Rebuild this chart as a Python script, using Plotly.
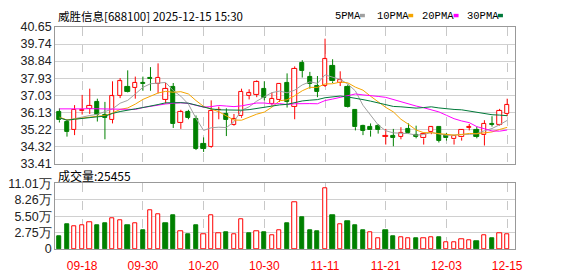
import plotly.graph_objects as go

# ---------------- data ----------------
dates = ["09-15", "09-16", "09-17", "09-18", "09-19", "09-22", "09-23", "09-24", "09-25", "09-26",
         "09-29", "09-30", "10-09", "10-10", "10-13", "10-14", "10-15", "10-16", "10-17", "10-20",
         "10-21", "10-22", "10-23", "10-24", "10-27", "10-28", "10-29", "10-30", "10-31", "11-03",
         "11-04", "11-05", "11-06", "11-07", "11-10", "11-11", "11-12", "11-13", "11-14", "11-17",
         "11-18", "11-19", "11-20", "11-21", "11-24", "11-25", "11-26", "11-27", "11-28", "12-01",
         "12-02", "12-03", "12-04", "12-05", "12-08", "12-09", "12-10", "12-11", "12-12", "12-15"]

opens = [36.13, 35.62, 35.20, 36.18, 36.31, 36.68, 36.01, 35.74, 37.01, 37.48,
         37.42, 37.68, 37.95, 37.63, 36.80, 37.48, 35.56, 36.13, 35.79, 34.47,
         34.30, 36.23, 36.06, 35.47, 35.92, 37.01, 37.06, 37.38, 36.56, 36.81,
         37.68, 36.43, 38.72, 37.99, 37.55, 37.52, 38.61, 37.68, 37.48, 36.23,
         35.42, 35.34, 35.42, 34.85, 34.89, 34.84, 35.25, 34.95, 34.75, 35.09,
         35.37, 34.95, 34.70, 34.80, 35.32, 35.17, 34.92, 35.49, 35.46, 36.04]
highs = [36.34, 35.76, 36.51, 37.05, 37.38, 36.85, 36.68, 37.77, 37.94, 38.35,
         38.02, 38.02, 38.52, 38.72, 37.68, 37.68, 36.26, 36.26, 35.96, 34.80,
         36.76, 36.43, 36.34, 36.04, 37.38, 37.35, 37.82, 37.77, 37.18, 37.68,
         38.19, 38.56, 38.89, 38.27, 38.05, 40.03, 38.94, 38.30, 37.60, 36.26,
         35.47, 35.54, 35.51, 35.25, 35.25, 35.34, 35.54, 35.42, 35.05, 35.37,
         35.37, 35.04, 34.92, 35.24, 35.51, 35.37, 35.71, 35.92, 36.31, 36.85]
lows = [35.59, 34.84, 34.92, 36.01, 36.04, 35.64, 34.70, 35.54, 36.88, 37.18,
        36.85, 37.27, 37.27, 37.13, 36.59, 35.30, 35.25, 35.76, 34.13, 34.03,
        34.25, 35.76, 34.87, 35.42, 35.84, 36.81, 36.93, 36.76, 36.48, 36.68,
        36.38, 35.76, 37.97, 37.38, 36.93, 37.47, 37.68, 37.52, 36.38, 35.17,
        34.92, 34.84, 35.00, 34.42, 34.33, 34.70, 35.00, 34.75, 34.42, 34.97,
        34.53, 34.63, 34.42, 34.63, 35.17, 34.75, 34.37, 35.37, 35.42, 35.92]
closes = [35.71, 35.09, 36.26, 36.28, 36.46, 36.01, 35.84, 36.98, 37.77, 37.21,
          37.68, 37.62, 37.92, 37.97, 37.38, 35.51, 36.13, 35.84, 34.20, 34.20,
          36.21, 36.28, 35.72, 35.76, 37.23, 37.13, 37.73, 36.90, 36.85, 37.63,
          36.68, 38.44, 38.32, 37.63, 37.21, 38.94, 37.77, 37.82, 36.43, 35.34,
          35.14, 35.17, 35.20, 34.89, 34.78, 35.05, 35.05, 34.84, 35.00, 35.34,
          34.63, 34.75, 34.87, 35.20, 35.35, 34.84, 35.51, 35.46, 36.21, 36.51]

ma5 = [35.84, 35.72, 35.79, 35.89, 35.96, 36.02, 36.17, 36.31, 36.61, 36.76,
       37.10, 37.45, 37.64, 37.68, 37.71, 37.28, 36.98, 36.56, 35.81, 35.17,
       35.31, 35.34, 35.32, 35.63, 36.24, 36.42, 36.72, 36.95, 37.17, 37.25,
       37.16, 37.30, 37.58, 37.74, 37.66, 38.11, 37.98, 37.87, 37.63, 37.26,
       36.50, 35.98, 35.46, 35.15, 35.04, 35.02, 35.00, 34.92, 34.95, 35.06,
       34.97, 34.91, 34.92, 34.96, 34.96, 35.00, 35.15, 35.27, 35.47, 35.70]
ma10 = [35.87, 35.72, 35.77, 35.84, 35.87, 35.92, 35.96, 36.09, 36.28, 36.36,
        36.56, 36.81, 36.98, 37.15, 37.24, 37.19, 37.22, 37.10, 36.75, 36.44,
        36.30, 36.16, 35.94, 35.72, 35.71, 35.87, 36.03, 36.14, 36.40, 36.74,
        36.79, 37.01, 37.27, 37.45, 37.45, 37.63, 37.64, 37.73, 37.69, 37.46,
        37.30, 36.98, 36.66, 36.39, 36.15, 35.76, 35.49, 35.19, 35.05, 35.05,
        35.00, 34.95, 34.92, 34.95, 35.01, 34.99, 35.03, 35.09, 35.22, 35.33]
ma20 = [36.31, 36.30, 36.30, 36.31, 36.32, 36.31, 36.30, 36.31, 36.29, 36.27,
        36.28, 36.38, 36.45, 36.52, 36.57, 36.61, 36.63, 36.60, 36.48, 36.40,
        36.43, 36.49, 36.46, 36.43, 36.47, 36.53, 36.62, 36.62, 36.57, 36.59,
        36.54, 36.58, 36.60, 36.59, 36.58, 36.75, 36.83, 36.93, 37.04, 37.10,
        37.05, 36.99, 36.97, 36.92, 36.80, 36.70, 36.56, 36.46, 36.37, 36.25,
        36.15, 35.97, 35.79, 35.67, 35.58, 35.37, 35.26, 35.14, 35.13, 35.19]
ma30 = [35.84, 35.71, 35.76, 35.81, 35.84, 35.89, 35.92, 36.07, 36.17, 36.26,
        36.31, 36.38, 36.48, 36.54, 36.63, 36.64, 36.64, 36.61, 36.50, 36.38,
        36.31, 36.26, 36.24, 36.23, 36.24, 36.27, 36.34, 36.39, 36.45, 36.52,
        36.55, 36.66, 36.73, 36.77, 36.80, 36.90, 36.96, 36.99, 36.94, 36.88,
        36.80, 36.72, 36.62, 36.52, 36.44, 36.42, 36.38, 36.35, 36.38, 36.42,
        36.36, 36.31, 36.28, 36.26, 36.20, 36.13, 36.05, 36.00, 35.98, 35.95]

# volume in 万 (10,000) units
volumes = [2.22, 4.13, 3.76, 3.92, 4.55, 3.97, 4.29, 5.19, 4.87, 3.97,
           4.24, 3.18, 6.46, 5.82, 4.29, 5.72, 2.96, 2.54, 3.97, 2.49,
           5.66, 2.65, 2.86, 2.49, 5.03, 2.70, 2.96, 2.86, 2.38, 3.12,
           4.29, 7.89, 5.40, 3.18, 3.02, 10.11, 5.72, 4.08, 4.61, 3.97,
           3.18, 2.81, 1.75, 3.18, 2.22, 1.91, 1.75, 1.75, 1.75, 1.91,
           1.91, 1.22, 1.06, 1.69, 1.43, 1.27, 2.33, 1.75, 2.65, 2.5455]
# 1 = red (up vs previous close), 0 = green
volume_up = [0, 0, 1, 1, 1, 0, 0, 1, 1, 0,
             1, 0, 1, 1, 0, 0, 1, 0, 0, 1,
             1, 1, 0, 1, 1, 0, 1, 0, 1, 1,
             0, 1, 0, 0, 0, 1, 0, 1, 0, 0,
             0, 1, 1, 0, 0, 1, 1, 0, 1, 1,
             0, 1, 1, 1, 1, 0, 1, 0, 1, 1]

x_tick_labels = ["09-18", "09-30", "10-20", "10-30", "11-11", "11-21", "12-03", "12-15"]
price_ticks = [33.41, 34.32, 35.22, 36.13, 37.03, 37.93, 38.84, 39.74, 40.65]
volume_ticks = [0, 2.75, 5.50, 8.26, 11.01]
volume_tick_text = ["0", "2.75万", "5.50万", "8.26万", "11.01万"]

title_text = "威胜信息[688100] 2025-12-15 15:30"
volume_title = "成交量:25455"
ma_names = ["5PMA", "10PMA", "20PMA", "30PMA"]

# ---------------- styling ----------------
W, H = 578, 276
RED = "#ff0000"
GREEN = "#008000"
MA_COLORS = ["#a0a0a0", "#f5a500", "#ff00ff", "#00793a"]
GRID = "#d0d0d0"
BORDER = "#999999"
LABEL = "#222222"


def px(xp):
    return xp / W


def py(yp):
    return 1 - yp / H


n = len(dates)
xs = list(range(n))
up_idx = [i for i in xs if closes[i] >= opens[i]]
dn_idx = [i for i in xs if closes[i] < opens[i]]
tick_pos = [dates.index(t) for t in x_tick_labels]


def wicks(idx):
    wx, wy = [], []
    for i in idx:
        top = max(opens[i], closes[i])
        bot = min(opens[i], closes[i])
        wx += [i, i, None, i, i, None]
        wy += [highs[i], top, None, bot, lows[i], None]
    return wx, wy


fig = go.Figure()

# candle bodies
for idx, fill, col in [(up_idx, "white", RED), (dn_idx, GREEN, GREEN)]:
    fig.add_trace(go.Bar(
        x=idx,
        base=[min(opens[i], closes[i]) for i in idx],
        y=[max(abs(closes[i] - opens[i]), 0.01) for i in idx],
        width=0.56,
        marker=dict(color=fill, line=dict(color=col, width=1)),
        xaxis="x", yaxis="y", showlegend=False, hoverinfo="skip"))

# wicks
for idx, col in [(up_idx, RED), (dn_idx, GREEN)]:
    wx, wy = wicks(idx)
    fig.add_trace(go.Scatter(x=wx, y=wy, mode="lines",
                             line=dict(color=col, width=1),
                             xaxis="x", yaxis="y", showlegend=False, hoverinfo="skip"))

# moving averages
for vals, col in zip([ma5, ma10, ma20, ma30], MA_COLORS):
    fig.add_trace(go.Scatter(x=xs, y=vals, mode="lines",
                             line=dict(color=col, width=1),
                             xaxis="x", yaxis="y", showlegend=False, hoverinfo="skip"))

# volume
v_up = [i for i in xs if volume_up[i] == 1]
v_dn = [i for i in xs if volume_up[i] == 0]
for idx, fill, col in [(v_up, "white", RED), (v_dn, GREEN, GREEN)]:
    fig.add_trace(go.Bar(
        x=idx, y=[volumes[i] for i in idx], width=0.56,
        marker=dict(color=fill, line=dict(color=col, width=1)),
        xaxis="x2", yaxis="y2", showlegend=False, hoverinfo="skip"))

x_dom = [px(56), px(522)]
x_range = [-0.55, 60.0]
common_x = dict(domain=x_dom, range=x_range, tickvals=tick_pos,
                showgrid=True, gridcolor="#c8c8c8", griddash="dash", gridwidth=1,
                zeroline=False, showline=True, mirror=True, linecolor=BORDER, linewidth=1,
                ticks="")
common_y = dict(showgrid=True, gridcolor=GRID, gridwidth=1, zeroline=False,
                showline=True, mirror=True, linecolor=BORDER, linewidth=1, ticks="",
                tickfont=dict(family="Liberation Sans", size=12.5, color=LABEL))

annotations = [
    dict(x=px(57), y=py(9), xref="paper", yref="paper", xanchor="left", yanchor="middle",
         text=title_text, showarrow=False,
         font=dict(family="Noto Sans CJK SC", size=11.5, color="#000000")),
    dict(x=px(57), y=py(177.5), xref="paper", yref="paper", xanchor="left", yanchor="middle",
         text=volume_title, showarrow=False,
         font=dict(family="Noto Sans CJK SC", size=12, color="#000000")),
]
legend_text_x = [338, 380, 426, 472]
legend_sw_x = [365, 414, 460, 505]
shapes = []
for name, tx, sx, col in zip(ma_names, legend_text_x, legend_sw_x, MA_COLORS):
    annotations.append(dict(x=px(tx), y=py(9.5), xref="paper", yref="paper",
                            xanchor="left", yanchor="middle", text=name, showarrow=False,
                            font=dict(family="Liberation Mono", size=10.5, color="#000000")))
    shapes.append(dict(type="rect", xref="paper", yref="paper",
                       x0=px(sx), x1=px(sx + 5), y0=py(10.8), y1=py(7.2),
                       fillcolor=col, line=dict(width=0)))

fig.update_layout(
    width=W, height=H, margin=dict(l=0, r=0, t=0, b=0),
    paper_bgcolor="white", plot_bgcolor="white",
    barmode="overlay", bargap=0,
    font=dict(family="Liberation Sans", size=12, color=LABEL),
    xaxis=dict(anchor="y", showticklabels=False, **common_x),
    yaxis=dict(domain=[py(165), py(21)], range=[33.41, 40.65],
               tickvals=price_ticks, ticktext=[f"{v:.2f}" for v in price_ticks], **common_y),
    xaxis2=dict(anchor="y2", matches="x", showticklabels=True,
                ticktext=x_tick_labels, ticklabelstandoff=6,
                tickfont=dict(family="Liberation Sans", size=12, color=RED), **common_x),
    yaxis2=dict(domain=[py(255), py(185.7)], range=[0, 11.01],
                tickvals=volume_ticks, ticktext=volume_tick_text, **common_y),
    annotations=annotations, shapes=shapes,
    showlegend=False,
)

fig.write_html("out.html")
